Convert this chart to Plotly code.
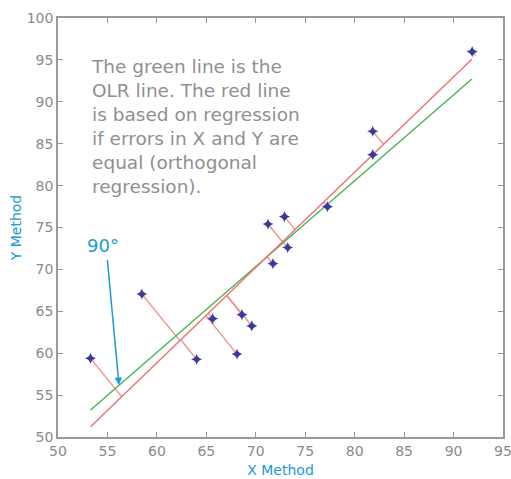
import numpy as np
import plotly.graph_objects as go

# Data points (X Method, Y Method)
x_vals = [53.29, 58.48, 64.02, 65.64, 68.10, 68.60, 69.60, 71.24, 71.74, 72.90,
          73.23, 77.25, 81.83, 81.83, 91.88]
y_vals = [59.39, 67.06, 59.27, 64.12, 59.90, 64.60, 63.25, 75.42, 70.68, 76.29,
          72.60, 77.48, 86.48, 83.69, 95.98]

# Regression lines (read at line ends)
line_x = [53.29, 91.85]
ols_y = [53.22, 92.72]      # green OLR line
orth_y = [51.23, 95.07]     # red orthogonal regression line

x_ticks = list(range(50, 100, 5))
y_ticks = list(range(50, 105, 5))

note_text = ("The green line is the<br>OLR line. The red line<br>is based on regression<br>"
             "if errors in X and Y are<br>equal (orthogonal<br>regression).")

# red line params
b = (orth_y[1] - orth_y[0]) / (line_x[1] - line_x[0])
a = orth_y[0] - b * line_x[0]
k2 = 0.606
seg_x, seg_y = [], []
for px, py in zip(x_vals, y_vals):
    t = (px + k2 * b * (py - a)) / (1 + k2 * b * b)
    seg_x += [px, t, None]
    seg_y += [py, a + b * t, None]

fig = go.Figure()
fig.add_trace(go.Scatter(x=seg_x, y=seg_y, mode="lines",
                         line=dict(color="#f28a88", width=1.3), hoverinfo="skip"))
fig.add_trace(go.Scatter(x=line_x, y=ols_y, mode="lines",
                         line=dict(color="#45b552", width=1.4)))
fig.add_trace(go.Scatter(x=line_x, y=orth_y, mode="lines",
                         line=dict(color="#f07070", width=1.4)))
fig.add_trace(go.Scatter(x=x_vals, y=y_vals, mode="markers",
                         marker=dict(symbol="star-diamond", size=8, color="#3a3a9c",
                                     line=dict(width=0))))

fig.add_annotation(x=53.1, y=95.75, xref="x", yref="y", text=note_text, showarrow=False,
                   xanchor="left", yanchor="top", align="left",
                   font=dict(family="DejaVu Sans", size=18.5, color="#8f8f8f"))
fig.add_annotation(x=56.17, y=56.2, ax=54.98, ay=71.3, xref="x", yref="y",
                   axref="x", ayref="y", text="", showarrow=True,
                   arrowhead=2, arrowsize=1, arrowwidth=1.5, arrowcolor="#1a9ad6")
fig.add_annotation(x=54.5, y=72.9, xref="x", yref="y", text="90°", showarrow=False,
                   font=dict(family="DejaVu Sans", size=18, color="#1a9ad6"))

axis_common = dict(showgrid=False, zeroline=False, showline=True, linecolor="#999999",
                   linewidth=1.5, mirror="ticks", ticks="inside", ticklen=5,
                   tickcolor="#999999", automargin=False, ticklabeloverflow="allow",
                   tickfont=dict(family="DejaVu Sans", size=14, color="#8a8a8a"))
fig.update_xaxes(range=[50, 95], tickvals=x_ticks, **axis_common,
                 title=dict(text="X Method", standoff=8,
                            font=dict(family="DejaVu Sans", size=14, color="#1a9ad6")))
fig.update_yaxes(range=[50, 100], tickvals=y_ticks, **axis_common,
                 title=dict(text="Y Method", standoff=2,
                            font=dict(family="DejaVu Sans", size=14, color="#1a9ad6")))
fig.update_layout(width=511, height=479, margin=dict(l=58, r=8, t=18, b=42),
                  plot_bgcolor="white", paper_bgcolor="white", showlegend=False)
fig.write_html("out.html", config={"displayModeBar": False},
               post_script="document.body.style.margin='0';document.body.style.overflow='hidden';")
